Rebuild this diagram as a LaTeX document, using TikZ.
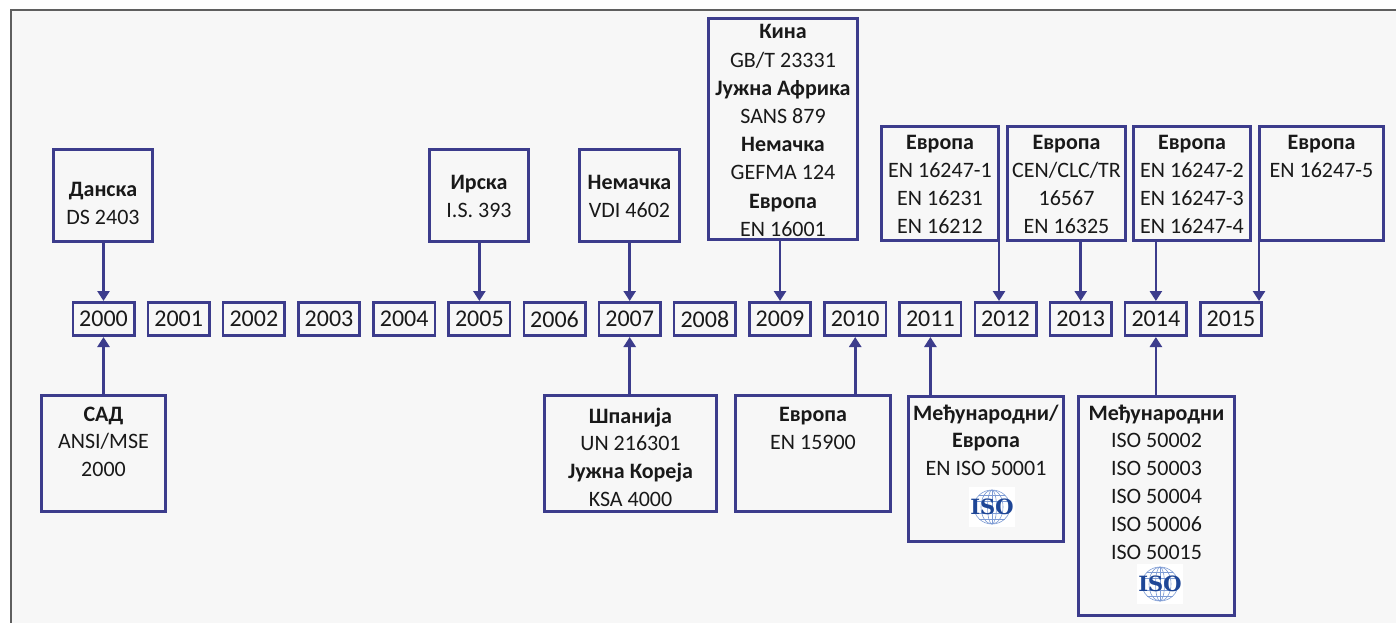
\documentclass[tikz,border=0pt]{standalone}
\usepackage{fontspec}
\setmainfont{Carlito}
\newfontfamily\isofont{DejaVu Serif}
\usetikzlibrary{arrows.meta}
\definecolor{navy}{RGB}{60,60,140}
\definecolor{bgc}{RGB}{247,247,247}
\definecolor{frm}{RGB}{95,95,95}
\definecolor{txtc}{RGB}{25,25,25}
\definecolor{isoblue}{RGB}{30,70,150}
\definecolor{globec}{RGB}{125,155,212}
\newcommand\mkbox[5]{\node[bigbox, minimum width={#4-#2-3.2}, minimum height={#5-#3-3.2}] (#1) at ({(#2+#4)/2},{(#3+#5)/2}) {};}
\tikzset{
 bigbox/.style={draw=navy, line width=3.2pt, inner sep=0},
 yearbox/.style={draw=navy, line width=2.6pt, minimum width=61.4pt, minimum height=33.4pt, inner sep=0, font=\fontsize{24}{28}\selectfont, text=txtc},
 txt/.style={align=center, inner sep=0, font=\fontsize{22}{27.8}\selectfont, text=txtc, anchor=north},
 arr/.style={draw=navy, line width=2.6pt, -{Triangle[width=12pt,length=10pt]}},
 gl/.style={draw=globec, line width=0.6pt},
 isologo/.style={fill=white, minimum width=46pt, minimum height=40pt, inner sep=0, text=isoblue,
   font=\isofont\bfseries\fontsize{21}{21}\selectfont,
   path picture={
     \coordinate (g) at (path picture bounding box.center);
     \draw[gl] (g) circle[x radius=18pt, y radius=17pt];
     \draw[gl] (g) circle[x radius=11pt, y radius=17pt];
     \draw[gl] (g) circle[x radius=4.5pt, y radius=17pt];
     \draw[gl] ([yshift=17pt]g) -- ([yshift=-17pt]g);
     \foreach \h/\w in {6/16.8, 12/12.7, -6/16.8, -12/12.7}{
       \draw[gl] ([xshift=-\w pt, yshift=\h pt]g) -- ([xshift=\w pt, yshift=\h pt]g);
     }
   }}
}
\begin{document}
\begin{tikzpicture}[x=1pt,y=-1pt]
\useasboundingbox (0,0) rectangle (1396,622);
\clip (0,0) rectangle (1396,622);
\fill[white] (0,0) rectangle (1396,622);
\draw[fill=bgc, draw=frm, line width=1.5pt] (11,10) rectangle (1430,650);

% year boxes
\foreach \i in {0,...,14}{
  \pgfmathtruncatemacro\yr{2000+\i}
  \node[yearbox] (y\yr) at ({103.5+75.17*\i},319) {\yr};
}
\node[yearbox] (y2015) at ({103.5+75.17*15},319) {\raisebox{-3pt}{2015}};

% top boxes
\mkbox{dk}{52}{148}{154}{243}
\mkbox{ir}{428}{148}{530}{243}
\mkbox{de}{578}{148}{681}{243}
\mkbox{cn}{707}{17}{859}{241}
\mkbox{ea}{880}{125}{1000}{242}
\mkbox{eb}{1006}{125}{1127}{242}
\mkbox{ec}{1132}{125}{1252}{242}
\mkbox{ed}{1258}{125}{1385}{242}
% bottom boxes
\mkbox{sad}{40}{394}{167}{513}
\mkbox{sp}{543}{394}{718}{513}
\mkbox{en}{734}{394}{892}{513}
\mkbox{ia}{907}{395}{1065}{543}
\mkbox{ib}{1077}{395}{1236}{617}

% texts
\node[txt] (dk-t) at (dk.center |- 0,182.5) {\textbf{Данска}\\DS 2403};
\node[txt] (ir-t) at (ir.center |- 0,175.5) {\textbf{Ирска}\\I.S. 393};
\node[txt] (de-t) at (de.center |- 0,175.5) {\textbf{Немачка}\\VDI 4602};
\node[txt, font=\fontsize{22}{28.2}\selectfont] (cn-t) at (cn.center |- 0,24.5) {\textbf{Кина}\\GB/T 23331\\\textbf{Јужна Африка}\\SANS 879\\\textbf{Немачка}\\GEFMA 124\\\textbf{Европа}\\EN 16001};
\node[txt] (ea-t) at (ea.center |- 0,135.5) {\textbf{Европа}\\EN 16247-1\\EN 16231\\EN 16212};
\node[txt] (eb-t) at (eb.center |- 0,135.5) {\textbf{Европа}\\CEN/CLC/TR\\16567\\EN 16325};
\node[txt] (ec-t) at (ec.center |- 0,135.5) {\textbf{Европа}\\EN 16247-2\\EN 16247-3\\EN 16247-4};
\node[txt] (ed-t) at (ed.center |- 0,135.5) {\textbf{Европа}\\EN 16247-5};
\node[txt] (sad-t) at (sad.center |- 0,406.5) {\textbf{САД}\\ANSI/MSE\\2000};
\node[txt] (sp-t) at (sp.center |- 0,407.5) {\textbf{Шпанија}\\UN 216301\\\textbf{Јужна Кореја}\\KSA 4000};
\node[txt] (en-t) at (en.center |- 0,407.5) {\textbf{Европа}\\EN 15900};
\node[txt] (ia-t) at (ia.center |- 0,404.5) {\textbf{Међународни/}\\\textbf{Европа}\\EN ISO 50001};
\node[txt] (ib-t) at (ib.center |- 0,404.5) {\textbf{Међународни}\\ISO 50002\\ISO 50003\\ISO 50004\\ISO 50006\\ISO 50015};

% ISO logos
\node[isologo] (iso1) at (992,507) {ISO};
\node[isologo] (iso2) at (1160,584) {ISO};

% arrows from top
\draw[arr] (y2000.north |- dk.south) -- (y2000.north);
\draw[arr] (y2005.north |- ir.south) -- (y2005.north);
\draw[arr] (y2007.north |- de.south) -- (y2007.north);
\draw[arr] (y2009.north |- cn.south) -- (y2009.north);
\draw[arr] ([xshift=-1pt]ea.south east) -- ([xshift=-1pt]ea.south east |- y2012.north);
\draw[arr] (y2013.north |- eb.south) -- (y2013.north);
\draw[arr] (y2014.north |- ec.south) -- (y2014.north);
\draw[arr] ([xshift=1pt]ed.south west) -- ([xshift=1pt]ed.south west |- y2015.north);
% arrows from bottom
\draw[arr] (y2000.south |- sad.north) -- (y2000.south);
\draw[arr] (y2007.south |- sp.north) -- (y2007.south);
\draw[arr] (y2010.south |- en.north) -- (y2010.south);
\draw[arr] (y2011.south |- ia.north) -- (y2011.south);
\draw[arr] (y2014.south |- ib.north) -- (y2014.south);
\end{tikzpicture}
\end{document}
